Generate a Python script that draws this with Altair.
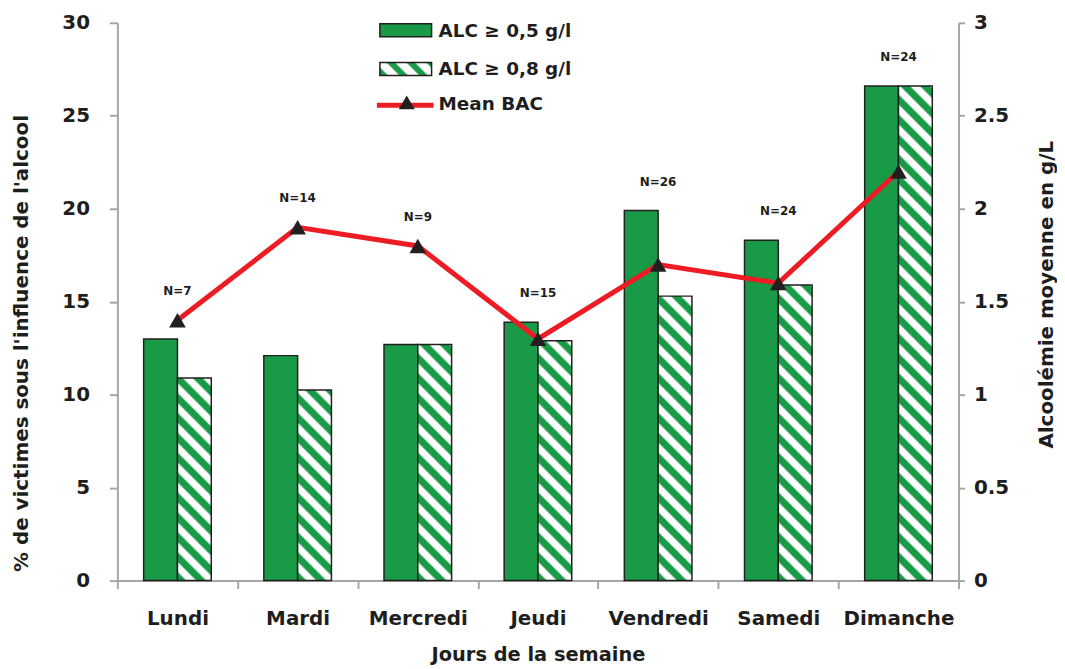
import altair as alt
import pandas as pd

days = ["Lundi", "Mardi", "Mercredi", "Jeudi", "Vendredi", "Samedi", "Dimanche"]
alc_05 = [13.0, 12.1, 12.7, 13.9, 19.9, 18.3, 26.6]
alc_08 = [10.9, 10.25, 12.7, 12.9, 15.3, 15.9, 26.6]
mean_bac = [1.4, 1.9, 1.8, 1.3, 1.7, 1.6, 2.2]
n_labels = ["N=7", "N=14", "N=9", "N=15", "N=26", "N=24", "N=24"]
series_names = ["ALC \u2265 0,5 g/l", "ALC \u2265 0,8 g/l"]
line_name = "Mean BAC"

GREEN = "#199a47"
RED = "#ed1c24"
DARK = "#231f20"
AXIS_GRAY = "#a6a6a6"
TEXT = "#1e1e1e"
FONT = "DejaVu Sans"

PLOT_W, PLOT_H = 846, 561
Y_MAX = 30
BAR_W = 34
step = PLOT_W / len(days)
offset_outer = (step / BAR_W - 2) / 2


def mix(c1, c2, t):
    a = [int(c1[i:i + 2], 16) for i in (1, 3, 5)]
    b = [int(c2[i:i + 2], 16) for i in (1, 3, 5)]
    return "#" + "".join("%02x" % round(a[i] + (b[i] - a[i]) * t) for i in range(3))


def stripe_gradient(W, H, period=20.0, green_w=7.5, edge=2.5, phase=4.0):
    L = W + H
    k = L / (W * W + H * H)
    x1, y1 = 0.0, 1.0
    x2, y2 = k * W, 1.0 - k * H

    def color(s):
        r = (s - phase) % period
        d = min(r, period - r)
        if d <= green_w / 2:
            return GREEN
        if d >= green_w / 2 + edge:
            return "#ffffff"
        return mix(GREEN, "#ffffff", (d - green_w / 2) / edge)

    pts = {0.0, L}
    n = -2
    while phase + n * period < L + 2 * period:
        c = phase + n * period
        for p in (c - green_w / 2 - edge, c - green_w / 2, c + green_w / 2, c + green_w / 2 + edge):
            if 0 < p < L:
                pts.add(p)
        n += 1
    stops = [{"offset": p / L, "color": color(p)} for p in sorted(pts)]
    return {"gradient": "linear", "x1": x1, "y1": y1, "x2": x2, "y2": y2, "stops": stops}


bars = pd.DataFrame({
    "day": days * 2,
    "series": [series_names[0]] * len(days) + [series_names[1]] * len(days),
    "value": alc_05 + alc_08,
})
daily = pd.DataFrame({"day": days, "alc05": alc_05, "bac": mean_bac, "n": n_labels})

x_enc = alt.X("day:N", sort=days,
              scale=alt.Scale(domain=days, paddingInner=0, paddingOuter=0),
              axis=alt.Axis(title="Jours de la semaine", labelAngle=0, tickBand="extent",
                            labelFontSize=20, labelFontWeight="bold", labelColor=TEXT,
                            labelPadding=20, titleFontSize=19.5, titleFontWeight="bold",
                            titleColor=TEXT, titlePadding=17, domainColor=AXIS_GRAY,
                            domainWidth=2, tickColor=AXIS_GRAY, tickWidth=2, tickSize=8,
                            labelFont=FONT, titleFont=FONT))
xoff_enc = alt.XOffset("series:N", scale=alt.Scale(domain=series_names, paddingInner=0,
                                                   paddingOuter=offset_outer))
y_scale = alt.Scale(domain=[0, Y_MAX], nice=False, zero=True)
y_axis = alt.Axis(title="% de victimes sous l'influence de l'alcool", values=list(range(0, 31, 5)),
                  labelFontSize=20, labelFontWeight="bold", labelColor=TEXT, labelPadding=20,
                  titleFontSize=20, titleFontWeight="bold", titleColor=TEXT, titlePadding=31,
                  titleY=322,
                  domainColor=AXIS_GRAY, domainWidth=2, tickColor=AXIS_GRAY, tickWidth=2,
                  tickSize=8, grid=False, labelFont=FONT, titleFont=FONT)

green_bars = alt.Chart(bars).transform_filter(
    alt.datum.series == series_names[0]
).mark_bar(fill=GREEN, stroke=DARK, strokeWidth=1.5).encode(
    x=x_enc, xOffset=xoff_enc, y=alt.Y("value:Q", scale=y_scale, axis=y_axis)
)

hatched_layers = []
for d, v in zip(days, alc_08):
    H = v * PLOT_H / Y_MAX
    hatched_layers.append(
        alt.Chart(bars).transform_filter(
            (alt.datum.series == series_names[1]) & (alt.datum.day == d)
        ).mark_bar(fill=stripe_gradient(BAR_W, H), stroke=DARK, strokeWidth=1.5).encode(
            x=x_enc, xOffset=xoff_enc, y=alt.Y("value:Q", scale=y_scale, axis=y_axis)
        )
    )

n_text = alt.Chart(daily).transform_calculate(
    top="max(datum.alc05, datum.bac * 10)"
).mark_text(font=FONT, fontSize=12, fontWeight="bold", color=TEXT, dy=-29).encode(
    x=x_enc, y=alt.Y("top:Q", scale=y_scale, axis=y_axis), text="n:N"
)

# legend (decoration)
leg1 = pd.DataFrame({"label": [series_names[0]]})
leg2 = pd.DataFrame({"label": [series_names[1]]})
leg3 = pd.DataFrame({"label": [line_name]})
LX = 264
legend_layers = [
    alt.Chart(leg1).mark_rect(fill=GREEN, stroke=DARK, strokeWidth=1.5).encode(
        x=alt.value(LX), x2=alt.value(LX + 52), y=alt.value(1), y2=alt.value(14)),
    alt.Chart(leg2).mark_rect(fill=stripe_gradient(52, 13, period=20, green_w=6, edge=2.5),
                              stroke=DARK, strokeWidth=1.5).encode(
        x=alt.value(LX), x2=alt.value(LX + 52), y=alt.value(40), y2=alt.value(53)),
    alt.Chart(leg3).mark_rule(color=RED, strokeWidth=5).encode(
        x=alt.value(LX - 3), x2=alt.value(LX + 54), y=alt.value(83)),
    alt.Chart(leg3).mark_point(shape="triangle-up", filled=True, color=DARK, opacity=1, size=260).encode(
        x=alt.value(LX + 27), y=alt.value(80)),
]
for df_l, yy in ((leg1, 8), (leg2, 46), (leg3, 82)):
    legend_layers.append(
        alt.Chart(df_l).mark_text(font=FONT, fontSize=18.5, fontWeight="bold", color=TEXT,
                                  align="left", baseline="middle").encode(
            x=alt.value(LX + 59), y=alt.value(yy), text="label:N"))

left = alt.layer(green_bars, *hatched_layers, n_text, *legend_layers)

y2_axis = alt.Axis(title="Alcool\u00e9mie moyenne en g/L", orient="right", titleAngle=270,
                   values=[0, 0.5, 1, 1.5, 2, 2.5, 3], format=".1~f",
                   labelFontSize=20, labelFontWeight="bold", labelColor=TEXT, labelPadding=9,
                   titleFontSize=20, titleFontWeight="bold", titleColor=TEXT, titlePadding=48,
                   titleY=273,
                   domainColor=AXIS_GRAY, domainWidth=2, tickColor=AXIS_GRAY, tickWidth=2,
                   tickSize=6, grid=False, labelFont=FONT, titleFont=FONT)
y2_scale = alt.Scale(domain=[0, 3], nice=False, zero=True)

line = alt.Chart(daily).mark_line(color=RED, strokeWidth=5).encode(
    x=x_enc, y=alt.Y("bac:Q", scale=y2_scale, axis=y2_axis)
)
points = alt.Chart(daily).mark_point(shape="triangle-up", filled=True, color=DARK,
                                     opacity=1, size=280).encode(
    x=x_enc, y=alt.Y("bac:Q", scale=y2_scale, axis=y2_axis)
)
right = alt.layer(line, points)

chart = alt.layer(left, right).resolve_scale(y="independent").properties(
    width=PLOT_W, height=PLOT_H, padding={"left": 3, "top": 3, "right": 0, "bottom": 0},
    background="white"
).configure_view(stroke=None)

chart.save("out.html", embed_options={"renderer": "svg", "actions": False})
